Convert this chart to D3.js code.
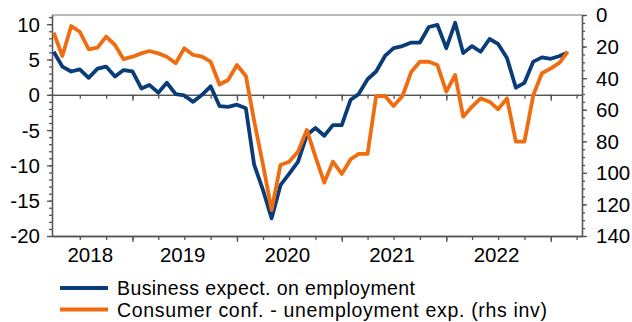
<!DOCTYPE html>
<html>
<head>
<meta charset="utf-8">
<script src="https://cdn.jsdelivr.net/npm/d3@7"></script>
<style>
  body { margin: 0; background: #fff; }
  text { font-family: "Liberation Sans", Arial, sans-serif; fill: #000; }
</style>
</head>
<body>
<svg id="chart" width="632" height="322"></svg>
<script>
// Monthly observations
const months = [
  "2018-04","2018-05","2018-06","2018-07","2018-08","2018-09","2018-10","2018-11","2018-12",
  "2019-01","2019-02","2019-03","2019-04","2019-05","2019-06","2019-07","2019-08","2019-09","2019-10","2019-11","2019-12",
  "2020-01","2020-02","2020-03","2020-04","2020-05","2020-06","2020-07","2020-08","2020-09","2020-10","2020-11","2020-12",
  "2021-01","2021-02","2021-03","2021-04","2021-05","2021-06","2021-07","2021-08","2021-09","2021-10","2021-11","2021-12",
  "2022-01","2022-02","2022-03","2022-04","2022-05","2022-06","2022-07","2022-08","2022-09","2022-10","2022-11","2022-12",
  "2023-01","2023-02","2023-03"
];

// Business expectations on employment (left axis)
const businessExpect = [
  6.1, 4.0, 3.3, 3.6, 2.4, 3.7, 4.0, 2.6, 3.5,
  3.3, 0.9, 1.4, 0.3, 1.7, 0.1, -0.1, -1.0, 0.0, 1.2, -1.6, -1.7,
  -1.4, -1.9, -9.9, -13.5, -17.5, -12.8, -11.2, -9.5, -5.7, -4.7, -5.8, -4.3,
  -4.3, -0.7, 0.1, 2.2, 3.3, 5.5, 6.6, 6.9, 7.4, 7.4, 9.6, 9.9,
  6.6, 10.2, 5.9, 6.9, 6.1, 7.9, 7.2, 5.2, 1.0, 1.7, 4.7, 5.3,
  5.1, 5.5, 6.0
];

// Consumer confidence, unemployment expectations (right axis, inverted)
const consumerUnemp = [
  11.2, 26, 7, 10.6, 21.7, 20.7, 13.7, 19, 28,
  26.4, 24.3, 22.8, 24.3, 26.4, 30.6, 21.1, 25.3, 26.4, 29.6, 44, 41.2,
  31.7, 38.6, 67, 95, 123.5, 95, 92.9, 86.6, 72.8, 89.7, 106.2, 92.9,
  100.7, 91.4, 88, 88, 51.3, 51.3, 57.6, 51.3, 35.9, 29.6, 29.6, 31.7,
  48.6, 38, 64.4, 58, 52.8, 54.9, 59.7, 52.8, 80.2, 80.2, 50.7, 36.9,
  33.8, 30.2, 23.2
];

const leftTicks = [10, 5, 0, -5, -10, -15, -20];
const rightTicks = [0, 20, 40, 60, 80, 100, 120, 140];
const yearLabels = ["2018", "2019", "2020", "2021", "2022"];
const seriesNames = ["Business expect. on employment", "Consumer conf. - unemployment exp. (rhs inv)"];
const seriesColors = ["#0b3c7a", "#ef6d10"];

const svg = d3.select("#chart");
const plot = { left: 52, right: 582, top: 15, bottom: 236 };
const axisColor = "#555";
const fontSize = 20.5;
const legendFontSize = 19.5;

const parseMonth = d3.timeParse("%Y-%m");
const dates = months.map(parseMonth);

const x = d3.scaleTime()
  .domain([new Date(2018, 2, 26), new Date(2023, 3, 20)])
  .range([plot.left, plot.right]);
const yL = d3.scaleLinear().domain([-20, 11.3]).range([plot.bottom, plot.top]);
const yR = d3.scaleLinear().domain([0, 140]).range([plot.top, plot.bottom]);

function styleAxis(g) {
  g.selectAll("path.domain").attr("stroke", axisColor).attr("stroke-width", 1.3);
  g.selectAll(".tick line").attr("stroke", axisColor).attr("stroke-width", 1.3);
  g.selectAll(".tick text").remove();
}

// top frame line
svg.append("line")
  .attr("x1", plot.left).attr("x2", plot.right)
  .attr("y1", plot.top).attr("y2", plot.top)
  .attr("stroke", "#777").attr("stroke-width", 1.2);

// horizontal axes: one through zero, one along the bottom
const quarterTicks = d3.timeMonth.every(3).range(new Date(2018, 6, 1), new Date(2023, 4, 1))
  .filter(d => x(d) <= plot.right);
const yearTicks = d3.timeYear.range(new Date(2019, 0, 1), new Date(2023, 1, 1));
[yL(0), plot.bottom].forEach(yPos => {
  svg.append("g").attr("transform", `translate(0,${yPos})`)
    .call(d3.axisBottom(x).tickValues(quarterTicks).tickSize(4).tickSizeOuter(0).tickFormat(""))
    .call(styleAxis);
  svg.append("g").attr("transform", `translate(0,${yPos})`)
    .call(d3.axisBottom(x).tickValues(yearTicks).tickSize(6).tickSizeOuter(0).tickFormat(""))
    .call(styleAxis);
});

// left axis
svg.append("g").attr("transform", `translate(${plot.left},0)`)
  .call(d3.axisLeft(yL).tickValues(d3.range(-20, 12, 1)).tickSize(3).tickSizeOuter(0).tickFormat(""))
  .call(styleAxis);
svg.append("g").attr("transform", `translate(${plot.left},0)`)
  .call(d3.axisLeft(yL).tickValues(leftTicks).tickSize(5).tickSizeOuter(0).tickFormat(""))
  .call(styleAxis);
svg.selectAll("text.ylab").data(leftTicks).join("text")
  .attr("class", "ylab")
  .attr("x", 40).attr("y", d => yL(d) + 2)
  .attr("text-anchor", "end").attr("dominant-baseline", "middle")
  .attr("font-size", fontSize)
  .text(d => String(d));

// right axis
svg.append("g").attr("transform", `translate(${plot.right},0)`)
  .call(d3.axisRight(yR).tickValues(d3.range(0, 141, 5)).tickSize(3).tickSizeOuter(0).tickFormat(""))
  .call(styleAxis);
svg.append("g").attr("transform", `translate(${plot.right},0)`)
  .call(d3.axisRight(yR).tickValues(rightTicks).tickSize(5).tickSizeOuter(0).tickFormat(""))
  .call(styleAxis);
svg.selectAll("text.rlab").data(rightTicks).join("text")
  .attr("class", "rlab")
  .attr("x", 596).attr("y", d => yR(d) + 2)
  .attr("text-anchor", "start").attr("dominant-baseline", "middle")
  .attr("font-size", fontSize)
  .text(d => String(d));

// year labels, centred on the visible part of each year
svg.selectAll("text.xlab").data(yearLabels).join("text")
  .attr("class", "xlab")
  .attr("x", d => {
    const y0 = +d;
    const a = Math.max(plot.left, x(new Date(y0, 0, 1)));
    const b = Math.min(plot.right, x(new Date(y0 + 1, 0, 1)));
    return (a + b) / 2 - 2;
  })
  .attr("y", 257)
  .attr("text-anchor", "middle").attr("dominant-baseline", "middle")
  .attr("font-size", fontSize)
  .text(d => d);

// series lines
const lineL = d3.line().x((d, i) => x(dates[i])).y(d => yL(d));
const lineR = d3.line().x((d, i) => x(dates[i])).y(d => yR(d));

svg.append("path").datum(businessExpect)
  .attr("d", lineL).attr("fill", "none")
  .attr("stroke", seriesColors[0]).attr("stroke-width", 3.8)
  .attr("stroke-linejoin", "round");
svg.append("path").datum(consumerUnemp)
  .attr("d", lineR).attr("fill", "none")
  .attr("stroke", seriesColors[1]).attr("stroke-width", 3.8)
  .attr("stroke-linejoin", "round");

// legend
const legend = svg.append("g");
seriesNames.forEach((name, i) => {
  const yy = 288 + i * 21.5;
  legend.append("line")
    .attr("x1", 60).attr("x2", 108).attr("y1", yy).attr("y2", yy)
    .attr("stroke", seriesColors[i]).attr("stroke-width", 3.8);
  legend.append("text")
    .attr("x", 117).attr("y", yy + 7)
    .attr("font-size", legendFontSize)
    .attr("textLength", i === 0 ? 298 : 430)
    .attr("lengthAdjust", "spacing")
    .text(name);
});
</script>
</body>
</html>
